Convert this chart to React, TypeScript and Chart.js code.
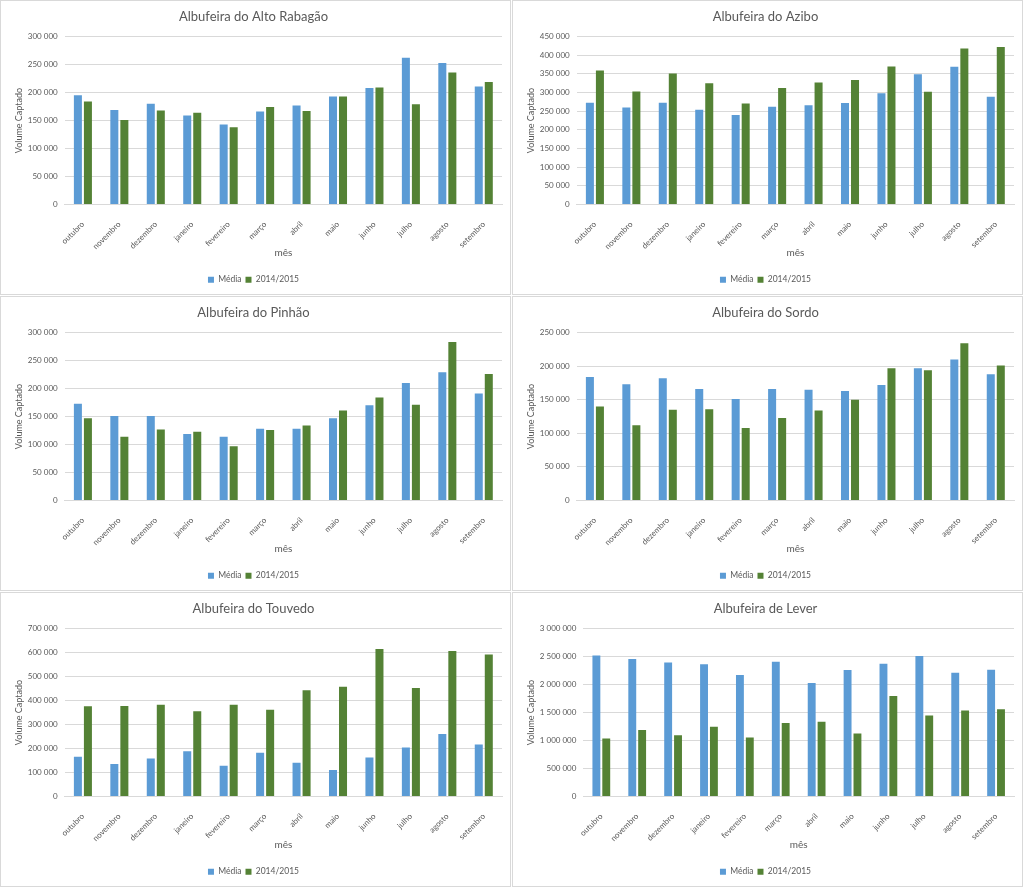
import React, { useEffect, useRef } from 'react';
import { Chart, registerables } from 'chart.js';

Chart.register(...registerables);

const MONTHS = ['outubro', 'novembro', 'dezembro', 'janeiro', 'fevereiro', 'março', 'abril', 'maio', 'junho', 'julho', 'agosto', 'setembro'];
const SERIES_LABELS = ['Média', '2014/2015'];
const X_TITLE = 'mês';
const Y_TITLE = 'Volume Captado';

const TITLES = ['Albufeira do Alto Rabagão', 'Albufeira do Azibo', 'Albufeira do Pinhão', 'Albufeira do Sordo', 'Albufeira do Touvedo', 'Albufeira de Lever'];

const altoRabagaoMedia = [195000, 169000, 180000, 159000, 143000, 166000, 177000, 193000, 208000, 262000, 253000, 211000];
const altoRabagao2015 = [184000, 151000, 168000, 164000, 138000, 174000, 167000, 193000, 209000, 179000, 236000, 219000];

const aziboMedia = [273000, 260000, 273000, 254000, 240000, 262000, 266000, 272000, 298000, 349000, 369000, 289000];
const azibo2015 = [359000, 303000, 351000, 325000, 271000, 312000, 327000, 334000, 370000, 302000, 418000, 422000];

const pinhaoMedia = [173000, 151000, 151000, 119000, 114000, 128000, 128000, 147000, 170000, 210000, 229000, 191000];
const pinhao2015 = [147000, 114000, 127000, 123000, 97000, 126000, 134000, 161000, 184000, 171000, 283000, 226000];

const sordoMedia = [184000, 173000, 182000, 166000, 151000, 166000, 165000, 163000, 172000, 197000, 210000, 188000];
const sordo2015 = [140000, 112000, 135000, 136000, 108000, 123000, 134000, 150000, 197000, 194000, 234000, 201000];

const touvedoMedia = [166000, 136000, 158000, 189000, 128000, 182000, 141000, 111000, 163000, 204000, 261000, 217000];
const touvedo2015 = [376000, 377000, 382000, 355000, 382000, 362000, 443000, 458000, 615000, 452000, 607000, 592000];

const leverMedia = [2518000, 2459000, 2394000, 2365000, 2171000, 2406000, 2029000, 2259000, 2371000, 2512000, 2212000, 2265000];
const lever2015 = [1035000, 1188000, 1094000, 1247000, 1053000, 1312000, 1335000, 1124000, 1794000, 1447000, 1535000, 1559000];

const MEDIA_SERIES = [altoRabagaoMedia, aziboMedia, pinhaoMedia, sordoMedia, touvedoMedia, leverMedia];
const SERIES_2015 = [altoRabagao2015, azibo2015, pinhao2015, sordo2015, touvedo2015, lever2015];
const Y_MAX = [300000, 450000, 300000, 250000, 700000, 3000000];
const Y_STEP = [50000, 50000, 50000, 50000, 100000, 500000];

const FONT = 'Lato, "Liberation Sans", sans-serif';
const TEXT = '#595959';
const GRID = '#d9d9d9';
const BLUE = '#5B9BD5';
const GREEN = '#548235';

const PANEL_W = 512;
const PANEL_H = 296;

function fmt(v: number) {
  return String(Math.round(v)).replace(/\B(?=(\d{3})+(?!\d))/g, ' ');
}

function Panel({ index }: { index: number }) {
  const ref = useRef<HTMLCanvasElement | null>(null);
  useEffect(() => {
    if (!ref.current) return;
    const chart = new Chart(ref.current, {
      type: 'bar',
      data: {
        labels: MONTHS,
        datasets: [
          { label: SERIES_LABELS[0], data: MEDIA_SERIES[index], backgroundColor: BLUE, categoryPercentage: 0.55, barPercentage: 0.8 },
          { label: SERIES_LABELS[1], data: SERIES_2015[index], backgroundColor: GREEN, categoryPercentage: 0.55, barPercentage: 0.8 },
        ],
      },
      options: {
        animation: false,
        responsive: false,
        maintainAspectRatio: false,
        layout: { padding: { left: 4, right: 8, top: 0, bottom: 0 } },
        plugins: {
          title: {
            display: true,
            text: TITLES[index],
            color: TEXT,
            font: { family: FONT, size: 13, weight: 'normal' },
            padding: { top: 8, bottom: 12 },
          },
          legend: {
            position: 'bottom',
            labels: {
              boxWidth: 6,
              boxHeight: 6,
              color: TEXT,
              padding: 4,
              font: { family: FONT, size: 8.5 },
            },
          },
          tooltip: { enabled: false },
        },
        scales: {
          x: {
            grid: { display: false },
            border: { color: GRID },
            ticks: {
              maxRotation: 45,
              minRotation: 45,
              color: TEXT,
              padding: 7,
              font: { family: FONT, size: 8 },
            },
            title: {
              display: true,
              text: X_TITLE,
              color: TEXT,
              font: { family: FONT, size: 10 },
              padding: { top: 2, bottom: 13 },
            },
            afterFit: (scale: any) => {
              scale.height = 67;
            },
          },
          y: {
            min: 0,
            max: Y_MAX[index],
            grid: { color: GRID, drawTicks: false },
            border: { display: false },
            ticks: {
              stepSize: Y_STEP[index],
              color: TEXT,
              padding: 7,
              font: { family: FONT, size: 8 },
              callback: (v: any) => fmt(Number(v)),
            },
            title: {
              display: true,
              text: Y_TITLE,
              color: TEXT,
              font: { family: FONT, size: 9 },
              padding: { top: 9, bottom: 1 },
            },
            afterFit: (scale: any) => {
              scale.width -= 5;
            },
          },
        },
      },
    });
    return () => chart.destroy();
  }, [index]);
  const col = index % 2;
  const row = Math.floor(index / 2);
  return (
    <div
      style={{
        position: 'absolute',
        left: col * PANEL_W,
        top: row * PANEL_H,
        width: PANEL_W - 1,
        height: PANEL_H - 1,
        border: `1px solid ${GRID}`,
        boxSizing: 'border-box',
        background: '#fff',
      }}
    >
      <canvas ref={ref} width={PANEL_W - 3} height={PANEL_H - 3} style={{ display: 'block' }} />
    </div>
  );
}

export default function App() {
  return (
    <div style={{ position: 'absolute', left: 0, top: 0, width: 1024, height: 887, background: '#fff' }}>
      {TITLES.map((_, i) => (
        <Panel key={i} index={i} />
      ))}
    </div>
  );
}
